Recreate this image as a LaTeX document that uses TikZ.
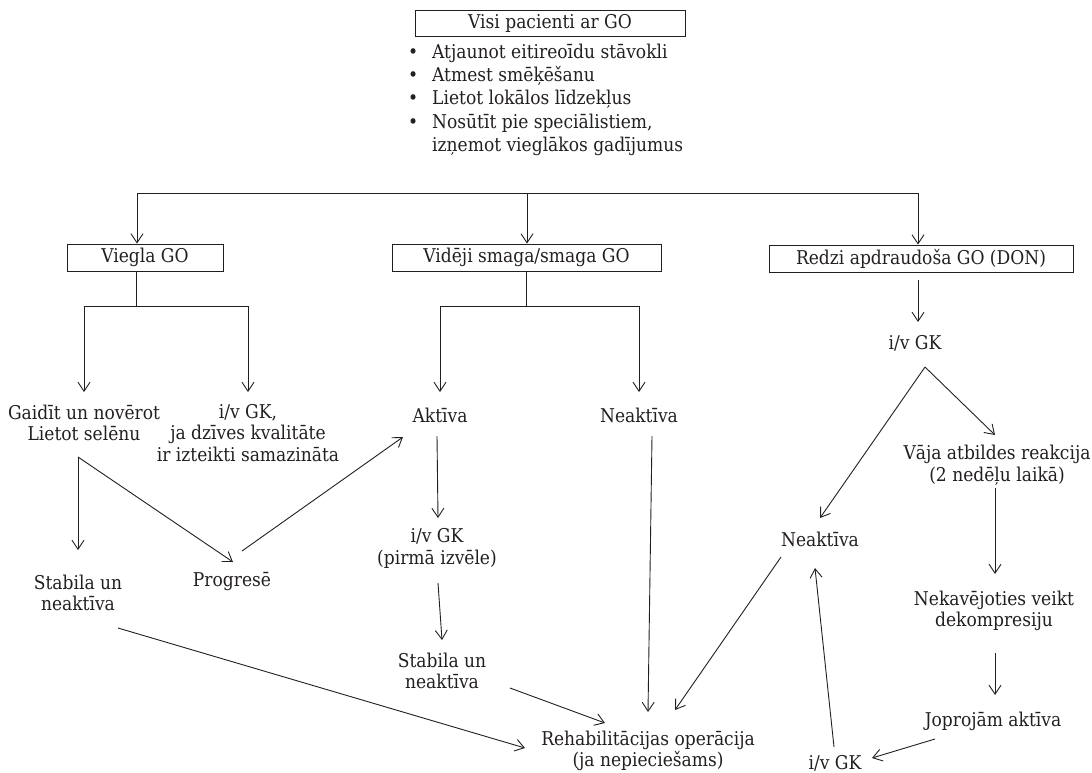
\documentclass[tikz,border=0pt]{standalone}
\usepackage{fontspec}
\setmainfont{DejaVu Serif Condensed}
\usetikzlibrary{arrows.meta,calc}
\definecolor{ink}{RGB}{35,31,32}
\begin{document}
\begin{tikzpicture}[x=1pt,y=-1pt,
  every node/.style={text=ink, font=\fontsize{19}{21.5}\selectfont},
  box/.style={draw=ink, line width=0.9pt, inner sep=0pt, minimum height=27pt},
  lbl/.style={align=center, inner sep=0pt},
  arr/.style={draw=ink, line width=0.9pt, -{Straight Barb[length=9pt,width=12pt]}},
  ln/.style={draw=ink, line width=0.9pt}]
\useasboundingbox (0,0) rectangle (1092,772);

% top
\node[box, minimum width=270pt, minimum height=26pt] (top) at (550,23.5) {Visi pacienti ar GO};
\node[lbl, anchor=base west] (b1) at (408,58) {\makebox[24pt][l]{•}Atjaunot eitireoīdu stāvokli};
\node[lbl, anchor=base west] (b2) at (408,81) {\makebox[24pt][l]{•}Atmest smēķēšanu};
\node[lbl, anchor=base west] (b3) at (408,104.5) {\makebox[24pt][l]{•}Lietot lokālos līdzekļus};
\node[lbl, anchor=base west] (b4) at (408,128) {\makebox[24pt][l]{•}Nosūtīt pie speciālistiem,};
\node[lbl, anchor=base west] (b5) at (408,151) {\hspace*{24pt}izņemot vieglākos gadījumus};

% boxes
\node[box, minimum width=156pt] (viegla) at (145,257.5) {Viegla GO};
\node[box, minimum width=269pt] (videji) at (526.5,257.5) {Vidēji smaga/smaga GO};
\node[box, minimum width=304pt] (redzi) at (921,258.5) {Redzi apdraudoša GO (DON)};

% text nodes
\node[lbl] (gaidit) at (84,423) {Gaidīt un novērot\\Lietot selēnu};
\node[lbl] (ivgk1) at (248,433) {i/v GK,\\ja dzīves kvalitāte\\ir izteikti samazināta};
\node[lbl] (aktiva) at (440,415) {Aktīva};
\node[lbl] (neakt1) at (639,415) {Neaktīva};
\node[lbl] (ivgk3) at (915,343) {i/v GK};
\node[lbl] (vaja) at (997,465) {Vāja atbildes reakcija\\(2 nedēļu laikā)};
\node[lbl] (stab1) at (78,593) {Stabila un\\neaktīva};
\node[lbl] (progrese) at (232,582) {Progresē};
\node[lbl] (neakt3) at (820,539) {Neaktīva};
\node[lbl] (ivgk2) at (437,548.5) {i/v GK\\(pirmā izvēle)};
\node[lbl] (stab2) at (442,671) {Stabila un\\neaktīva};
\node[lbl] (nekav) at (994,611) {Nekavējoties veikt\\dekompresiju};
\node[lbl] (joprojam) at (993,721) {Joprojām aktīva};
\node[lbl] (rehab) at (648,751) {Rehabilitācijas operācija\\(ja nepieciešams)};
\node[lbl] (ivgk4) at (835,763) {i/v GK};

% top distribution
\coordinate (t1) at (137,193);
\coordinate (t2) at (527,193);
\coordinate (t3) at (918,193);
\draw[ln] (t1) -- (t3);
\draw[arr] (t1) -- (t1 |- viegla.north);
\draw[arr] (t2) -- (t2 |- videji.north);
\draw[arr] (t3) -- (t3 |- redzi.north);

% viegla branch
\coordinate (vj) at (136,306);
\draw[ln] (vj |- viegla.south) -- (vj);
\draw[ln] (gaidit |- vj) -- (ivgk1 |- vj);
\draw[arr] (gaidit |- vj) -- ($(gaidit)+(0,-31)$);
\draw[arr] (ivgk1 |- vj) -- ($(ivgk1)+(0,-41)$);

% videji branch
\coordinate (mj) at (526,306);
\draw[ln] (mj |- videji.south) -- (mj);
\draw[ln] (aktiva |- mj) -- (neakt1 |- mj);
\draw[arr] (aktiva |- mj) -- ($(aktiva)+(0,-23)$);
\draw[arr] (neakt1 |- mj) -- ($(neakt1)+(0,-23)$);

% redzi branch
\draw[arr] ($(redzi.south)+(-3,8)$) -- ($(ivgk3)+(3,-21)$);
\coordinate (apx3) at ($(ivgk3)+(10,24)$);
\draw[arr] (apx3) -- ($(neakt3)+(0,-21)$);
\draw[arr] (apx3) -- ($(vaja)+(-2,-30)$);
\draw[arr] ($(vaja)+(-2,23)$) -- ($(nekav)+(1,-37)$);
\draw[arr] ($(nekav)+(1,42)$) -- ($(joprojam)+(2,-26)$);
\draw[arr] ($(joprojam)+(-58,18)$) -- ($(ivgk4)+(37,-5)$);
\draw[arr] ($(ivgk4)+(-1,-16)$) -- ($(neakt3)+(-5,29)$);
\draw[arr] ($(neakt3)+(-39,18)$) -- ($(rehab)+(27,-41)$);

% left paths
\coordinate (apx1) at ($(gaidit)+(-6,34)$);
\draw[arr] (apx1) -- ($(stab1)+(0,-43)$);
\draw[arr] (apx1) -- ($(progrese)+(1,-20)$);
\draw[arr] ($(progrese)+(10,-31)$) -- ($(aktiva)+(-37,22)$);
\draw[arr] ($(aktiva)+(-3,21)$) -- ($(ivgk2)+(1,-30.5)$);
\draw[arr] ($(ivgk2)+(1,34.5)$) -- ($(stab2)+(0,-31)$);
\draw[arr] ($(stab2)+(68,17)$) -- ($(rehab)+(-43,-28)$);
\draw[arr] ($(stab1)+(40,35)$) -- ($(rehab)+(-123,-3)$);
\draw[arr] ($(neakt1)+(13,21)$) -- ($(rehab)+(0,-39)$);
\end{tikzpicture}
\end{document}
